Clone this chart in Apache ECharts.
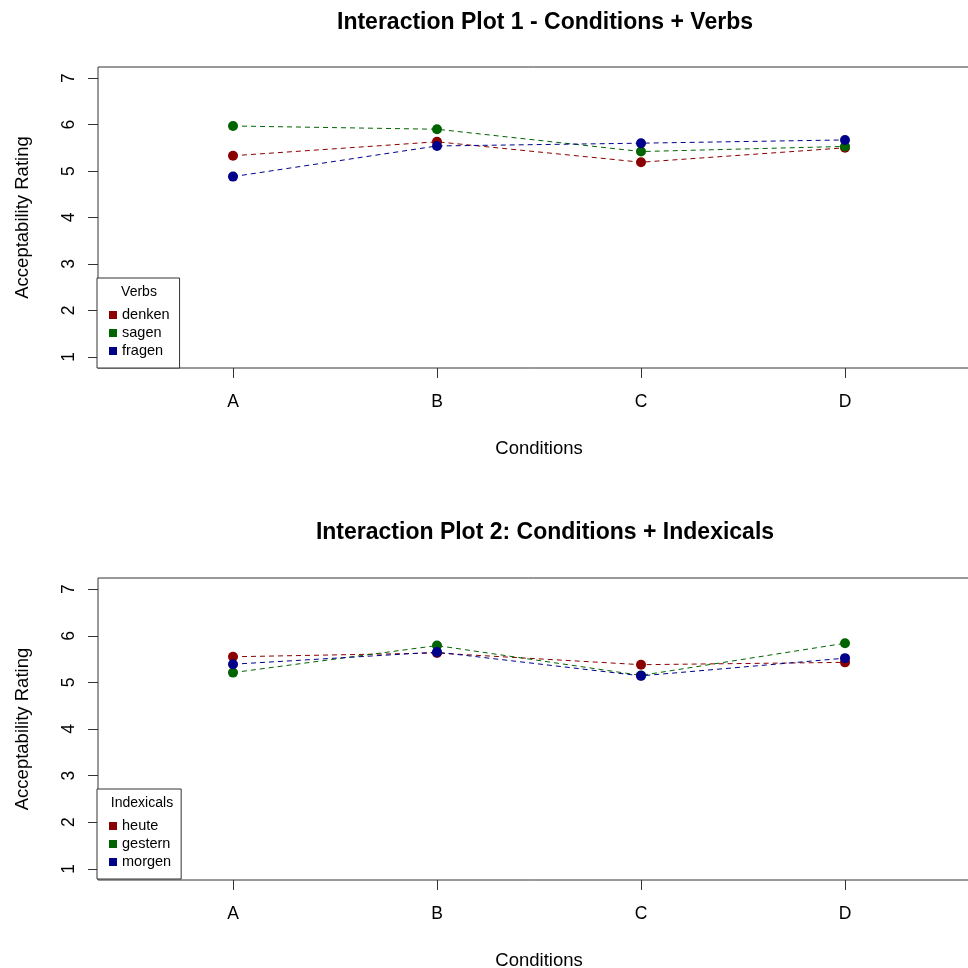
<!DOCTYPE html>
<html>
<head>
<meta charset="utf-8">
<script src="https://cdn.jsdelivr.net/npm/echarts@6/dist/echarts.min.js"></script>
<style>html,body{margin:0;padding:0;background:#fff;}#c{width:968px;height:968px;}</style>
</head>
<body>
<div id="c"></div>
<script>
const categories = ['A', 'B', 'C', 'D'];
const yTicks = [1, 2, 3, 4, 5, 6, 7];

// Plot 1: Verbs
const denken = [5.33, 5.63, 5.19, 5.50];
const sagen  = [5.97, 5.90, 5.42, 5.53];
const fragen = [4.88, 5.54, 5.60, 5.67];

// Plot 2: Indexicals
const heute   = [5.55, 5.63, 5.38, 5.43];
const gestern = [5.21, 5.79, 5.15, 5.84];
const morgen  = [5.39, 5.65, 5.14, 5.52];

const titles = ['Interaction Plot 1 - Conditions + Verbs', 'Interaction Plot 2: Conditions + Indexicals'];
const legendTitles = ['Verbs', 'Indexicals'];
const groups = [
  [['denken', denken], ['sagen', sagen], ['fragen', fragen]],
  [['heute', heute], ['gestern', gestern], ['morgen', morgen]]
];
const colors = ['#8B0000', '#006400', '#00008B'];

const FONT = 'Liberation Sans, Arial, sans-serif';
const gridTops = [67, 578];
const gridHeights = [301, 302];

const grids = [], xAxes = [], yAxes = [], series = [], legends = [], titleComps = [];
const legendTops = [278, 789];
const legendTitleX = [139, 142];
const titleTops = [11, 521];

for (let p = 0; p < 2; p++) {
  grids.push({left: 98, top: gridTops[p], width: 882, height: gridHeights[p], show: true,
    outerBoundsMode: 'none', containLabel: false,
    borderColor: '#333', borderWidth: 1, backgroundColor: 'transparent'});
  xAxes.push({
    type: 'value', gridIndex: p, min: 1 - 135 / 204, max: 1 + 747 / 204,
    name: 'Conditions', nameLocation: 'middle', nameGap: 71,
    nameTextStyle: {fontFamily: FONT, fontSize: 18.5, color: '#000'},
    axisLine: {show: false}, splitLine: {show: false},
    axisTick: {show: true, length: 10, customValues: [1, 2, 3, 4], lineStyle: {color: '#333'}},
    axisLabel: {customValues: [1, 2, 3, 4], formatter: v => categories[Math.round(v) - 1],
      fontFamily: FONT, fontSize: 17.5, color: '#000', margin: 25}
  });
  yAxes.push({
    type: 'value', gridIndex: p, min: 0.76, max: 7.24,
    name: 'Acceptability Rating', nameLocation: 'middle', nameGap: 66,
    nameTextStyle: {fontFamily: FONT, fontSize: 18.5, color: '#000'},
    axisLine: {show: false}, splitLine: {show: false},
    axisTick: {show: true, length: 10, customValues: yTicks, lineStyle: {color: '#333'}},
    axisLabel: {customValues: yTicks, rotate: 90, fontFamily: FONT, fontSize: 17.5, color: '#000', margin: 20}
  });
  const names = [];
  groups[p].forEach((g, i) => {
    names.push(g[0]);
    series.push({
      name: g[0], type: 'line', xAxisIndex: p, yAxisIndex: p,
      data: g[1].map((v, k) => [k + 1, v]),
      symbol: 'circle', symbolSize: 10,
      itemStyle: {color: colors[i]},
      lineStyle: {color: colors[i], width: 1, type: [5, 4]},
      emphasis: {disabled: true}, silent: true, animation: false, z: 2 + i
    });
  });
  legends.push({
    data: names, left: 97, top: legendTops[p], orient: 'vertical',
    icon: 'rect', itemWidth: 8, itemHeight: 8, itemGap: 0,
    padding: [28, 10, 8, 12],
    borderColor: '#333', borderWidth: 1, backgroundColor: '#fff',
    textStyle: {fontFamily: FONT, fontSize: 14.5, color: '#000', lineHeight: 18},
    selectedMode: false, z: 10
  });
  titleComps.push({text: titles[p], left: 545, top: titleTops[p], textAlign: 'center', padding: 0,
    textStyle: {fontFamily: FONT, fontSize: 23, fontWeight: 'bold', color: '#000'}});
  titleComps.push({text: legendTitles[p], left: legendTitleX[p], top: legendTops[p] + 7, textAlign: 'center', padding: 0, z: 20,
    textStyle: {fontFamily: FONT, fontSize: 14, fontWeight: 'normal', color: '#000'}});
}

const chart = echarts.init(document.getElementById('c'), null, {renderer: 'canvas'});
chart.setOption({
  animation: false,
  backgroundColor: '#fff',
  title: titleComps,
  legend: legends,
  grid: grids,
  xAxis: xAxes,
  yAxis: yAxes,
  series: series
});
</script>
</body>
</html>
